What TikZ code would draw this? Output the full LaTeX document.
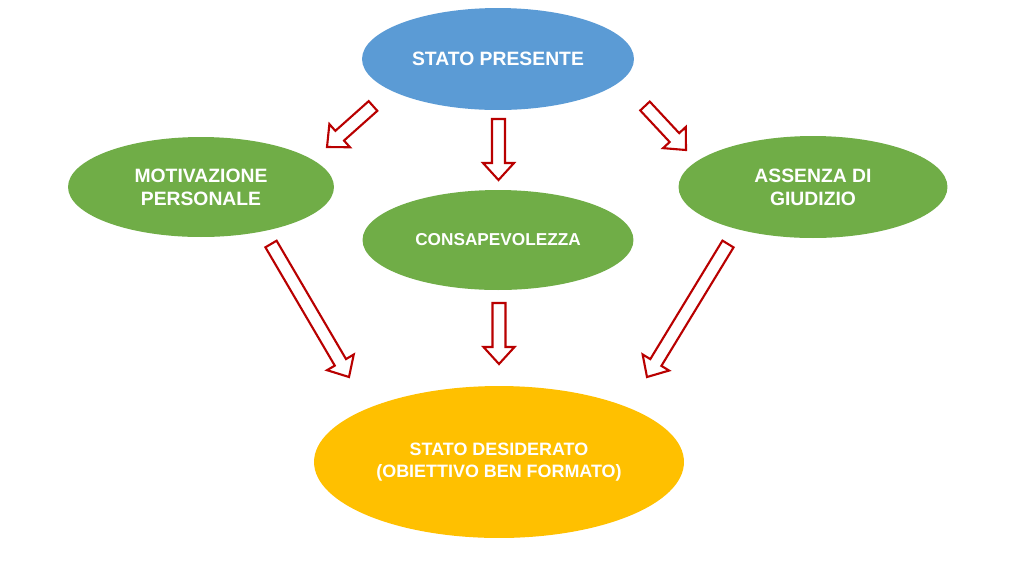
\documentclass[tikz,border=0pt]{standalone}
\usepackage{fontspec}
\setmainfont{Liberation Sans}
\usetikzlibrary{shapes.geometric,calc}
\definecolor{blueE}{HTML}{5B9BD5}
\definecolor{greenE}{HTML}{70AD47}
\definecolor{goldE}{HTML}{FFC000}
\definecolor{arrowred}{RGB}{185,0,0}
\tikzset{
  ell/.style={ellipse, draw=none, inner sep=0pt, text=white, align=center,
    font=\bfseries\fontsize{11}{13}\selectfont},
  blockarrow/.style={draw=arrowred, line width=1.2pt, fill=white, line join=miter},
}
\newcommand\blockarr[2]{%
  \coordinate (hb) at ($(#2)!0.34cm!(#1)$);
  \draw[blockarrow] ($(#1)!0.13cm!90:(#2)$) -- ($(hb)!0.13cm!90:(#2)$)
    -- ($(hb)!0.31cm!90:(#2)$) -- (#2) -- ($(hb)!0.31cm!-90:(#2)$)
    -- ($(hb)!0.13cm!-90:(#2)$) -- ($(#1)!0.13cm!-90:(#2)$) -- cycle;
}
\begin{document}
\begin{tikzpicture}[x=0.02cm,y=-0.02cm]
\useasboundingbox[fill=white] (0,0) rectangle (1024,576);
% ellipses
\node[ell, fill=blueE, minimum width=5.44cm, minimum height=2.04cm] (pres) at (498,59) {STATO PRESENTE};
\node[ell, fill=greenE, minimum width=5.32cm, minimum height=2.0cm] (motiv) at (201,187) {MOTIVAZIONE\\PERSONALE};
\node[ell, fill=greenE, minimum width=5.42cm, minimum height=2.0cm, font=\bfseries\fontsize{9.8}{12}\selectfont] (consap) at (498,240) {CONSAPEVOLEZZA};
\node[ell, fill=greenE, minimum width=5.38cm, minimum height=2.04cm] (assenza) at (813,187) {ASSENZA DI\\GIUDIZIO};
\node[ell, fill=goldE, minimum width=7.4cm, minimum height=3.04cm, font=\bfseries\fontsize{10.2}{12.5}\selectfont] (desid) at (499,462) {STATO DESIDERATO\\(OBIETTIVO BEN FORMATO)};
% arrow end points
\coordinate (a1s) at (373,106); \coordinate (a1e) at (327,147);
\coordinate (a2s) at (498.5,119); \coordinate (a2e) at (498.5,180);
\coordinate (a3s) at (645,106); \coordinate (a3e) at (686,150);
\coordinate (a4s) at (271,244); \coordinate (a4e) at (349,377);
\coordinate (a5s) at (499,303); \coordinate (a5e) at (499,364);
\coordinate (a6s) at (728,244); \coordinate (a6e) at (647,377);
\blockarr{a1s}{a1e}
\blockarr{a2s}{a2e}
\blockarr{a3s}{a3e}
\blockarr{a4s}{a4e}
\blockarr{a5s}{a5e}
\blockarr{a6s}{a6e}
\end{tikzpicture}
\end{document}
